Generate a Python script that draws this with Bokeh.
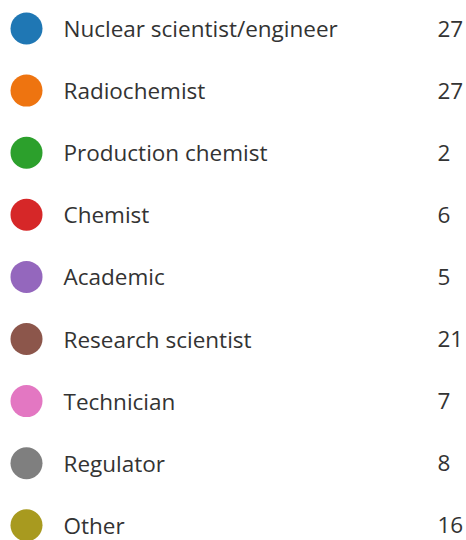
from bokeh.plotting import figure
from bokeh.models import Range1d, ColumnDataSource
from bokeh.core.properties import value
from bokeh.embed import file_html
from bokeh.resources import INLINE

categories = ["Nuclear scientist/engineer", "Radiochemist", "Production chemist", "Chemist",
              "Academic", "Research scientist", "Technician", "Regulator", "Other"]
counts = [27, 27, 2, 6, 5, 21, 7, 8, 16]
colors = ["#1f77b4", "#ee7410", "#2ca02c", "#d62728", "#9467bd", "#8c564b", "#e377c2", "#7f7f7f", "#a89a1f"]

W, H = 466, 540
row_px = 62.1
top_px = 28.0

src = ColumnDataSource(dict(
    idx=list(range(len(categories))),
    cat=categories,
    cnt=[str(c) for c in counts],
    col=colors,
    xc=[26] * len(categories),
    xt=[63] * len(categories),
    xn=[437] * len(categories),
))

p = figure(width=W, height=H, output_backend="svg", toolbar_location=None,
           x_range=Range1d(0, W),
           y_range=Range1d((H - top_px) / row_px, -top_px / row_px),
           min_border=0)
p.axis.visible = False
p.grid.visible = False
p.outline_line_color = None
p.background_fill_color = "white"
p.border_fill_color = "white"

p.scatter(x="xc", y="idx", source=src, size=32, fill_color="col", line_color=None)
p.text(x="xt", y="idx", text="cat", source=src, text_font=value("Open Sans"),
       text_font_size="22.5px", text_baseline="middle", text_color="#333333")
p.text(x="xn", y="idx", text="cnt", source=src, text_font=value("Open Sans"),
       text_font_size="22.5px", text_baseline="middle", text_color="#333333")

open("out.html", "w").write(file_html(p, INLINE))
